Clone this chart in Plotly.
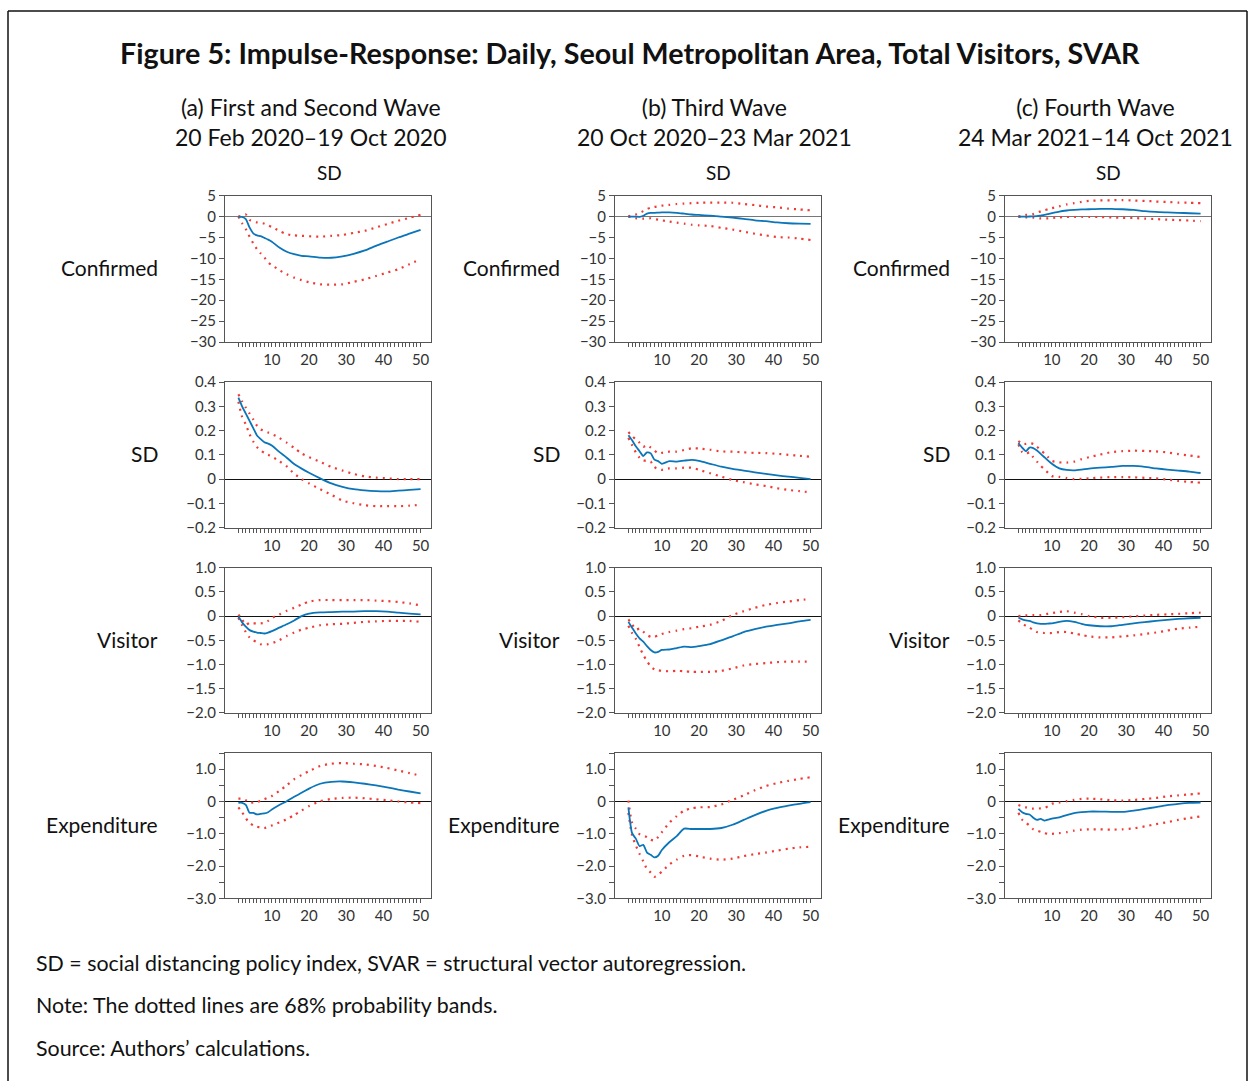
import plotly.graph_objects as go

W, H = 1249, 1089

# ---------------- data ----------------
days = [1, 2, 3, 4, 5, 6, 7, 8, 9, 10, 12, 14, 16, 18, 20, 23, 26, 29, 32, 35, 38, 41, 44, 47, 50]

# Row 1: response of Confirmed
conf_a_irf = [0, -0.1, -0.6, -2.6, -4.0, -4.5, -4.7, -5.1, -5.5, -6.0, -7.4, -8.4, -9.0, -9.4, -9.5, -9.8, -9.85, -9.5, -8.9, -8.1, -7.0, -6.0, -5.0, -4.1, -3.2]
conf_a_hi = [0, 0.2, 0.5, -0.8, -1.1, -1.4, -1.5, -1.7, -2.1, -2.5, -3.4, -4.2, -4.5, -4.6, -4.7, -4.8, -4.6, -4.4, -3.9, -3.4, -2.6, -1.8, -1.0, -0.3, 0.4]
conf_a_lo = [0, -1.6, -3.0, -4.8, -6.4, -7.8, -8.8, -9.8, -11.0, -11.6, -12.8, -13.8, -14.6, -15.2, -15.7, -16.2, -16.3, -16.2, -15.6, -15.0, -14.2, -13.4, -12.6, -11.4, -10.2]

conf_b_irf = [0, 0, 0, -0.05, 0.2, 0.7, 0.9, 0.9, 0.95, 1.0, 1.0, 0.9, 0.7, 0.5, 0.4, 0.25, 0, -0.25, -0.55, -0.9, -1.1, -1.4, -1.6, -1.7, -1.75]
conf_b_hi = [0, 0.3, 0.5, 0.9, 1.3, 1.8, 2.1, 2.3, 2.45, 2.6, 2.8, 3.0, 3.1, 3.2, 3.3, 3.35, 3.35, 3.3, 3.0, 2.75, 2.4, 2.2, 1.9, 1.7, 1.5]
conf_b_lo = [0, -0.2, -0.4, -0.5, -0.5, -0.45, -0.4, -0.6, -0.75, -0.9, -1.2, -1.45, -1.7, -1.95, -2.1, -2.25, -2.7, -3.1, -3.6, -4.1, -4.5, -4.9, -5.0, -5.25, -5.6]

conf_c_irf = [0, 0, 0, 0.02, 0.05, 0.1, 0.25, 0.4, 0.6, 0.8, 1.2, 1.45, 1.6, 1.7, 1.75, 1.85, 1.85, 1.75, 1.6, 1.3, 1.1, 1.0, 0.9, 0.8, 0.7]
conf_c_hi = [0, 0.2, 0.4, 0.5, 0.6, 0.9, 1.25, 1.5, 1.75, 2.0, 2.45, 2.9, 3.2, 3.5, 3.75, 3.85, 3.9, 3.95, 3.85, 3.75, 3.6, 3.5, 3.35, 3.3, 3.2]
conf_c_lo = [0, -0.1, -0.2, -0.25, -0.25, -0.35, -0.45, -0.45, -0.45, -0.35, -0.2, -0.1, -0.1, -0.1, -0.1, -0.1, -0.2, -0.3, -0.35, -0.5, -0.6, -0.75, -0.85, -0.95, -1.1]

# Row 2: response of SD
sd_a_irf = [0.336, 0.30, 0.27, 0.24, 0.21, 0.18, 0.165, 0.152, 0.146, 0.138, 0.112, 0.088, 0.062, 0.043, 0.026, 0.003, -0.018, -0.032, -0.042, -0.047, -0.05, -0.051, -0.048, -0.045, -0.042]
sd_a_hi = [0.35, 0.32, 0.295, 0.27, 0.246, 0.22, 0.205, 0.198, 0.192, 0.186, 0.17, 0.15, 0.128, 0.106, 0.09, 0.071, 0.05, 0.035, 0.021, 0.011, 0.006, 0.003, 0.0, 0.0, 0.0]
sd_a_lo = [0.319, 0.257, 0.225, 0.185, 0.155, 0.132, 0.117, 0.108, 0.1, 0.093, 0.074, 0.052, 0.022, 0.0, -0.018, -0.042, -0.065, -0.089, -0.1, -0.108, -0.112, -0.112, -0.112, -0.11, -0.106]

sd_b_irf = [0.181, 0.16, 0.135, 0.115, 0.095, 0.11, 0.106, 0.08, 0.074, 0.063, 0.074, 0.072, 0.076, 0.079, 0.075, 0.063, 0.051, 0.042, 0.035, 0.028, 0.021, 0.015, 0.01, 0.005, 0.0]
sd_b_hi = [0.194, 0.178, 0.163, 0.15, 0.133, 0.14, 0.13, 0.118, 0.106, 0.108, 0.113, 0.113, 0.12, 0.127, 0.126, 0.121, 0.114, 0.113, 0.11, 0.108, 0.107, 0.104, 0.1, 0.096, 0.092]
sd_b_lo = [0.17, 0.14, 0.11, 0.088, 0.076, 0.076, 0.072, 0.049, 0.042, 0.038, 0.044, 0.044, 0.047, 0.047, 0.038, 0.024, 0.01, -0.004, -0.013, -0.022, -0.029, -0.038, -0.045, -0.05, -0.055]

sd_c_irf = [0.149, 0.13, 0.115, 0.13, 0.128, 0.118, 0.104, 0.09, 0.076, 0.063, 0.044, 0.0375, 0.036, 0.039, 0.043, 0.047, 0.05, 0.054, 0.054, 0.05, 0.044, 0.039, 0.035, 0.031, 0.025]
sd_c_hi = [0.157, 0.145, 0.145, 0.148, 0.145, 0.133, 0.12, 0.105, 0.09, 0.075, 0.069, 0.068, 0.072, 0.082, 0.09, 0.101, 0.111, 0.115, 0.117, 0.116, 0.114, 0.11, 0.103, 0.097, 0.091]
sd_c_lo = [0.143, 0.112, 0.104, 0.11, 0.09, 0.072, 0.055, 0.04, 0.025, 0.012, 0.009, 0.004, 0.0, 0.001, 0.003, 0.006, 0.008, 0.008, 0.007, 0.005, 0.003, -0.002, -0.008, -0.012, -0.015]

# Row 3: response of Visitor
vis_a_irf = [-0.01, -0.13, -0.22, -0.29, -0.32, -0.34, -0.35, -0.36, -0.34, -0.31, -0.24, -0.17, -0.09, 0.0, 0.05, 0.075, 0.083, 0.09, 0.093, 0.1, 0.1, 0.09, 0.07, 0.05, 0.035]
vis_a_hi = [0.03, -0.07, -0.18, -0.14, -0.15, -0.15, -0.15, -0.14, -0.1, -0.04, 0.03, 0.11, 0.17, 0.24, 0.3, 0.33, 0.33, 0.33, 0.33, 0.33, 0.32, 0.31, 0.29, 0.26, 0.22]
vis_a_lo = [-0.035, -0.19, -0.33, -0.44, -0.5, -0.54, -0.58, -0.6, -0.58, -0.56, -0.5, -0.41, -0.34, -0.28, -0.24, -0.19, -0.17, -0.16, -0.14, -0.12, -0.11, -0.1, -0.1, -0.1, -0.12]

vis_b_irf = [-0.12, -0.24, -0.36, -0.46, -0.53, -0.62, -0.7, -0.75, -0.74, -0.7, -0.69, -0.66, -0.63, -0.64, -0.62, -0.58, -0.5, -0.42, -0.33, -0.27, -0.22, -0.18, -0.15, -0.11, -0.08]
vis_b_hi = [-0.07, -0.17, -0.28, -0.26, -0.32, -0.39, -0.43, -0.43, -0.4, -0.37, -0.33, -0.3, -0.27, -0.25, -0.22, -0.18, -0.1, 0.02, 0.1, 0.17, 0.23, 0.27, 0.3, 0.33, 0.35]
vis_b_lo = [-0.2, -0.35, -0.47, -0.64, -0.8, -0.93, -1.04, -1.1, -1.12, -1.13, -1.14, -1.13, -1.14, -1.15, -1.15, -1.15, -1.13, -1.08, -1.02, -0.99, -0.97, -0.95, -0.94, -0.94, -0.94]

vis_c_irf = [-0.03, -0.07, -0.09, -0.1, -0.13, -0.15, -0.16, -0.16, -0.155, -0.15, -0.12, -0.1, -0.12, -0.16, -0.19, -0.21, -0.21, -0.18, -0.15, -0.125, -0.1, -0.08, -0.06, -0.045, -0.035]
vis_c_hi = [0, 0.01, 0.014, 0.02, 0.02, 0.02, 0.02, 0.035, 0.05, 0.06, 0.085, 0.1, 0.07, 0.04, 0.0, -0.035, -0.035, -0.025, -0.005, 0.01, 0.025, 0.035, 0.045, 0.06, 0.07]
vis_c_lo = [-0.09, -0.15, -0.2, -0.24, -0.29, -0.33, -0.34, -0.35, -0.35, -0.35, -0.33, -0.33, -0.36, -0.39, -0.42, -0.44, -0.44, -0.42, -0.4, -0.37, -0.34, -0.3, -0.26, -0.24, -0.22]

# Row 4: response of Expenditure
exp_a_irf = [-0.04, -0.04, -0.1, -0.35, -0.35, -0.4, -0.38, -0.37, -0.33, -0.25, -0.11, 0.01, 0.145, 0.27, 0.4, 0.55, 0.61, 0.62, 0.59, 0.55, 0.5, 0.44, 0.37, 0.31, 0.25]
exp_a_hi = [0.09, 0.09, 0.04, -0.04, -0.03, -0.02, 0.03, 0.07, 0.12, 0.17, 0.33, 0.5, 0.69, 0.82, 0.94, 1.1, 1.17, 1.19, 1.17, 1.15, 1.1, 1.04, 0.96, 0.88, 0.8]
exp_a_lo = [-0.18, -0.33, -0.52, -0.66, -0.74, -0.78, -0.81, -0.82, -0.79, -0.74, -0.65, -0.55, -0.42, -0.28, -0.14, 0.01, 0.08, 0.11, 0.12, 0.1, 0.07, 0.04, 0.0, -0.03, -0.05]

exp_b_irf = [-0.18, -0.98, -1.15, -1.38, -1.34, -1.58, -1.65, -1.73, -1.68, -1.5, -1.26, -1.07, -0.84, -0.85, -0.85, -0.85, -0.82, -0.72, -0.57, -0.42, -0.29, -0.2, -0.13, -0.07, -0.02]
exp_b_hi = [0.03, -0.66, -0.84, -1.01, -1.05, -1.1, -1.18, -1.21, -1.1, -0.95, -0.66, -0.45, -0.28, -0.21, -0.18, -0.17, -0.09, 0.05, 0.19, 0.35, 0.48, 0.57, 0.64, 0.7, 0.75]
exp_b_lo = [-0.35, -1.05, -1.36, -1.62, -1.85, -2.09, -2.2, -2.33, -2.26, -2.17, -1.95, -1.8, -1.68, -1.66, -1.7, -1.77, -1.8, -1.77, -1.69, -1.63, -1.58, -1.52, -1.46, -1.42, -1.4]

exp_c_irf = [-0.23, -0.33, -0.38, -0.4, -0.5, -0.57, -0.54, -0.59, -0.56, -0.53, -0.49, -0.42, -0.36, -0.33, -0.31, -0.31, -0.32, -0.32, -0.28, -0.23, -0.17, -0.11, -0.07, -0.04, -0.03]
exp_c_hi = [-0.11, -0.15, -0.18, -0.21, -0.22, -0.22, -0.21, -0.2, -0.14, -0.07, -0.03, 0.01, 0.05, 0.08, 0.09, 0.07, 0.04, 0.03, 0.05, 0.08, 0.11, 0.16, 0.19, 0.22, 0.25]
exp_c_lo = [-0.35, -0.56, -0.65, -0.75, -0.86, -0.9, -0.94, -0.98, -1.0, -1.0, -0.98, -0.95, -0.9, -0.87, -0.86, -0.86, -0.87, -0.86, -0.83, -0.77, -0.7, -0.64, -0.57, -0.51, -0.46]

# tick labels
x_tickvals = [10, 20, 30, 40, 50]
conf_ticks = [5, 0, -5, -10, -15, -20, -25, -30]
conf_ticktext = ["5", "0", "−5", "−10", "−15", "−20", "−25", "−30"]
sd_ticks = [0.4, 0.3, 0.2, 0.1, 0, -0.1, -0.2]
sd_ticktext = ["0.4", "0.3", "0.2", "0.1", "0", "−0.1", "−0.2"]
vis_ticks = [1.0, 0.5, 0, -0.5, -1.0, -1.5, -2.0]
vis_ticktext = ["1.0", "0.5", "0", "−0.5", "−1.0", "−1.5", "−2.0"]
exp_ticks = [1.0, 0, -1.0, -2.0, -3.0]
exp_ticktext = ["1.0", "0", "−1.0", "−2.0", "−3.0"]
exp_minor_ticks = [1.5, 0.5, -0.5, -1.5, -2.5]

row_labels = ["Confirmed", "SD", "Visitor", "Expenditure"]
col_titles = ["(a) First and Second Wave<br>20 Feb 2020–19 Oct 2020",
              "(b) Third Wave<br>20 Oct 2020–23 Mar 2021",
              "(c) Fourth Wave<br>24 Mar 2021–14 Oct 2021"]
shock_label = "SD"
title_text = "Figure 5: Impulse-Response: Daily, Seoul Metropolitan Area, Total Visitors, SVAR"
footnotes = ["SD = social distancing policy index, SVAR = structural vector autoregression.",
             "Note: The dotted lines are 68% probability bands.",
             "Source: Authors’ calculations."]

# ---------------- layout geometry (target screen pixels) ----------------
col_x = [(225, 431), (615, 821), (1005, 1211)]
row_y = [(196, 342), (382, 527), (567, 712), (752, 897)]
row_label_x = [160, 562, 952]
col_title_x = [311, 715, 1095]
shock_x = [329, 718, 1108]

# the rendered page shows the figure slightly compressed vertically; compensate
VA, VB = 0.981, 10.8

def px(x):
    return x / W

def py(y):
    yf = (y - VB) / VA
    return min(1.0, max(0.0, 1 - yf / H))

FONT = "Lato"
BLUE = "#0a75b8"
RED = "#f03a35"

panels = [
    [(conf_a_irf, conf_a_lo, conf_a_hi), (conf_b_irf, conf_b_lo, conf_b_hi), (conf_c_irf, conf_c_lo, conf_c_hi)],
    [(sd_a_irf, sd_a_lo, sd_a_hi), (sd_b_irf, sd_b_lo, sd_b_hi), (sd_c_irf, sd_c_lo, sd_c_hi)],
    [(vis_a_irf, vis_a_lo, vis_a_hi), (vis_b_irf, vis_b_lo, vis_b_hi), (vis_c_irf, vis_c_lo, vis_c_hi)],
    [(exp_a_irf, exp_a_lo, exp_a_hi), (exp_b_irf, exp_b_lo, exp_b_hi), (exp_c_irf, exp_c_lo, exp_c_hi)],
]
row_yaxis = [
    dict(range=[-30, 5], tickvals=conf_ticks, ticktext=conf_ticktext, minor=None, zc="#777777"),
    dict(range=[-0.2, 0.4], tickvals=sd_ticks, ticktext=sd_ticktext, minor=None, zc="#111111"),
    dict(range=[-2.0, 1.0], tickvals=vis_ticks, ticktext=vis_ticktext, minor=None, zc="#111111"),
    dict(range=[-3.0, 1.5], tickvals=exp_ticks, ticktext=exp_ticktext, minor=exp_minor_ticks, zc="#111111"),
]

fig = go.Figure()
layout = {}
k = 0
for r in range(4):
    for c in range(3):
        k += 1
        xa = "x" if k == 1 else f"x{k}"
        ya = "y" if k == 1 else f"y{k}"
        irf, lo, hi = panels[r][c]
        for ser, col, dash, wd in [(hi, RED, "2px,5px", 2.2), (lo, RED, "2px,5px", 2.2), (irf, BLUE, "solid", 1.8)]:
            fig.add_trace(go.Scatter(x=days, y=ser, mode="lines", xaxis=xa, yaxis=ya,
                                     line=dict(color=col, width=wd, dash=dash, shape="spline", smoothing=0.6),
                                     showlegend=False, hoverinfo="skip"))
        xkey = "xaxis" if k == 1 else f"xaxis{k}"
        ykey = "yaxis" if k == 1 else f"yaxis{k}"
        layout[xkey] = dict(domain=[px(col_x[c][0]), px(col_x[c][1])], range=[-2.6, 52.8],
                            anchor=ya, showgrid=False, zeroline=False,
                            showline=True, mirror=True, linecolor="#555555", linewidth=1,
                            ticks="outside", ticklen=4, tickcolor="#555555", tickwidth=1,
                            tickvals=x_tickvals, ticktext=[str(v) for v in x_tickvals],
                            minor=dict(tickvals=list(range(1, 51)), ticks="outside", ticklen=4,
                                       tickcolor="#555555", tickwidth=1),
                            tickfont=dict(family=FONT, size=15, color="#333333"), fixedrange=True)
        yc = row_yaxis[r]
        ydict = dict(domain=[py(row_y[r][1]), py(row_y[r][0])], range=yc["range"],
                     anchor=xa, showgrid=False, zeroline=True, zerolinecolor=yc["zc"], zerolinewidth=1,
                     showline=True, mirror=True, linecolor="#555555", linewidth=1,
                     ticks="outside", ticklen=5, tickcolor="#555555", tickwidth=1,
                     tickvals=yc["tickvals"], ticktext=yc["ticktext"],
                     tickfont=dict(family=FONT, size=15, color="#333333"), fixedrange=True)
        if yc["minor"] is not None:
            ydict["minor"] = dict(tickvals=yc["minor"], ticks="outside", ticklen=5,
                                  tickcolor="#555555", tickwidth=1)
        layout[ykey] = ydict

annotations = []
annotations.append(dict(text=f"<b>{title_text}</b>", x=px(630), y=py(54), xref="paper", yref="paper",
                        xanchor="center", yanchor="middle", showarrow=False,
                        font=dict(family=FONT, size=28.7, color="#111111")))
for c in range(3):
    annotations.append(dict(text=col_titles[c], x=px(col_title_x[c]), y=py(123), xref="paper", yref="paper",
                            xanchor="center", yanchor="middle", showarrow=False,
                            font=dict(family=FONT, size=23, color="#111111")))
    annotations.append(dict(text=shock_label, x=px(shock_x[c]), y=py(173), xref="paper", yref="paper",
                            xanchor="center", yanchor="middle", showarrow=False,
                            font=dict(family=FONT, size=19, color="#111111")))
    for r in range(4):
        yc_mid = (row_y[r][0] + row_y[r][1]) / 2
        annotations.append(dict(text=row_labels[r], x=px(row_label_x[c]), y=py(yc_mid - 1), xref="paper", yref="paper",
                                xanchor="right", yanchor="middle", showarrow=False,
                                font=dict(family=FONT, size=21, color="#111111")))
for i, t in enumerate(footnotes):
    annotations.append(dict(text=t, x=px(34), y=py(961 + 42.5 * i), xref="paper", yref="paper",
                            xanchor="left", yanchor="middle", showarrow=False,
                            font=dict(family=FONT, size=21.4, color="#111111")))

# outer frame (left, top, right edges; bottom lies beyond the page)
ftop = py(8)
if ftop >= 1.0:
    ftop = 1 - 1.0 / H
shapes = [
    dict(type="line", xref="paper", yref="paper", x0=px(8), x1=px(8), y0=0, y1=ftop,
         line=dict(color="#111111", width=1.5)),
    dict(type="line", xref="paper", yref="paper", x0=px(8), x1=px(1247), y0=ftop, y1=ftop,
         line=dict(color="#111111", width=1.5)),
    dict(type="line", xref="paper", yref="paper", x0=px(1247), x1=px(1247), y0=0, y1=ftop,
         line=dict(color="#111111", width=1.5)),
]

fig.update_layout(width=W, height=H, margin=dict(l=0, r=0, t=0, b=0),
                  paper_bgcolor="white", plot_bgcolor="white",
                  annotations=annotations, shapes=shapes, showlegend=False, **layout)

fig.write_html("out.html", config={"displayModeBar": False},
               post_script="document.body.style.margin='0';document.body.style.overflow='hidden';")
